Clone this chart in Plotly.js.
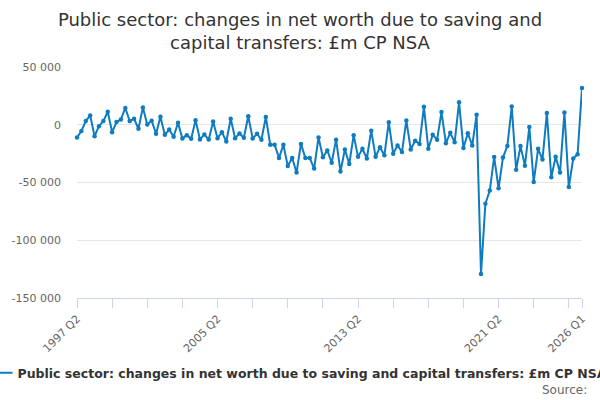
<!DOCTYPE html>
<html>
<head>
<meta charset="utf-8">
<script src="https://cdn.plot.ly/plotly-3.0.1.min.js"></script>
<style>html,body{margin:0;padding:0;background:#fff;}#chart{width:600px;height:400px;}</style>
</head>
<body>
<div id="chart"></div>
<script>
// Quarterly categories 1997 Q2 .. 2026 Q1
var startYear = 1997, startQuarter = 2, nPoints = 116;
var categories = [];
for (var k = 0; k < nPoints; k++) {
  var q = startQuarter - 1 + k;
  categories.push((startYear + Math.floor(q / 4)) + ' Q' + (q % 4 + 1));
}

// £m
var netWorthChange = [
  -11000, -5500, 3200, 8100, -9900, -1200, 3200, 11300, -6400, 2300,
  4600, 14500, 3200, 5200, -3500, 15000, 300, 3500, -7800, 7000,
  -8700, -4100, -10400, 1700, -11900, -9000, -12200, 4000, -12800, -8400,
  -12800, 2900, -11600, -6400, -14500, 5200, -11600, -7600, -11200, 7300,
  -11800, -7900, -13000, 6700, -17400, -17400, -28700, -17400, -35700, -28700,
  -41300, -16600, -28700, -28700, -37900, -11000, -28100, -22200, -32900, -12900,
  -40500, -21400, -34000, -9000, -27800, -20800, -29200, -5100, -27800, -19400,
  -26400, 2200, -25000, -18000, -23600, 3700, -21400, -13800, -16600, 15500,
  -20800, -8700, -12900, 11000, -16000, -7000, -15200, 19400, -20200, -7300,
  -18000, 8700, -129300, -68400, -57000, -28000, -55000, -28400, -18500, 15700,
  -39000, -18500, -35400, -2000, -49500, -20800, -30100, 10100, -45500, -27800,
  -41300, 10700, -54000, -29200, -25600, 31800
];

var seriesName = 'Public sector: changes in net worth due to saving and capital transfers: £m CP NSA';
var chartTitle = 'Public sector: changes in net worth due to saving and<br>capital transfers: £m CP NSA';

var yTickVals = [50000, 0, -50000, -100000, -150000];
var yTickText = ['50 000', '0', '-50 000', '-100 000', '-150 000'];

// x ticks every 8 quarters, labels every 32 quarters plus the last one
var xTickVals = [], xTickText = [];
for (var i = 0; i < categories.length; i += 8) {
  xTickVals.push(categories[i]);
  xTickText.push(i % 32 === 0 ? categories[i] : '');
}
xTickVals.push(categories[categories.length - 1]);
xTickText.push(categories[categories.length - 1]);

var lineColor = '#0f7cc1';
var font = 'DejaVu Sans, Verdana, sans-serif';

var trace = {
  type: 'scatter',
  mode: 'lines+markers',
  x: categories,
  y: netWorthChange,
  name: seriesName,
  line: {color: lineColor, width: 2},
  marker: {color: lineColor, size: 4.5, symbol: 'circle'},
  cliponaxis: false,
  showlegend: true
};

var layout = {
  width: 600,
  height: 400,
  margin: {l: 76.5, r: 18, t: 67, b: 102, autoexpand: false},
  paper_bgcolor: '#ffffff',
  plot_bgcolor: '#ffffff',
  font: {family: font, color: '#666666', size: 11},
  title: {
    text: chartTitle,
    font: {family: font, size: 18, color: '#333333'},
    x: 0.5, xref: 'container', xanchor: 'center',
    y: 0.935, yref: 'container', yanchor: 'top'
  },
  xaxis: {
    type: 'category',
    range: [0, categories.length - 1],
    tickmode: 'array',
    tickvals: xTickVals,
    ticktext: xTickText,
    tickangle: -45,
    ticks: 'outside',
    ticklen: 9,
    tickcolor: '#ccd6eb',
    tickwidth: 1,
    showline: true,
    linecolor: '#ccd6eb',
    linewidth: 1,
    showgrid: false,
    zeroline: false,
    tickfont: {family: font, size: 11, color: '#666666'}
  },
  yaxis: {
    range: [-150000, 50000],
    tickmode: 'array',
    tickvals: yTickVals,
    ticktext: yTickText,
    showgrid: true,
    gridcolor: '#e6e6e6',
    gridwidth: 1,
    zeroline: false,
    showline: false,
    ticks: '',
    ticklabelstandoff: 15,
    tickfont: {family: font, size: 11, color: '#666666'}
  },
  showlegend: true,
  legend: {
    orientation: 'h',
    x: -0.197, xref: 'paper', xanchor: 'left',
    y: -0.3247, yref: 'paper', yanchor: 'middle',
    font: {family: font, size: 12.5, color: '#333333', weight: 'bold'},
    bgcolor: 'rgba(0,0,0,0)'
  },
  annotations: [{
    text: 'Source:',
    xref: 'paper', yref: 'paper',
    x: (589 - 76.5) / 505.5, xanchor: 'right',
    y: (298 - 390) / 231, yanchor: 'middle',
    showarrow: false,
    font: {family: font, size: 12, color: '#666666'}
  }],
  hovermode: false
};

Plotly.newPlot('chart', [trace], layout, {staticPlot: true, displayModeBar: false});
</script>
</body>
</html>
